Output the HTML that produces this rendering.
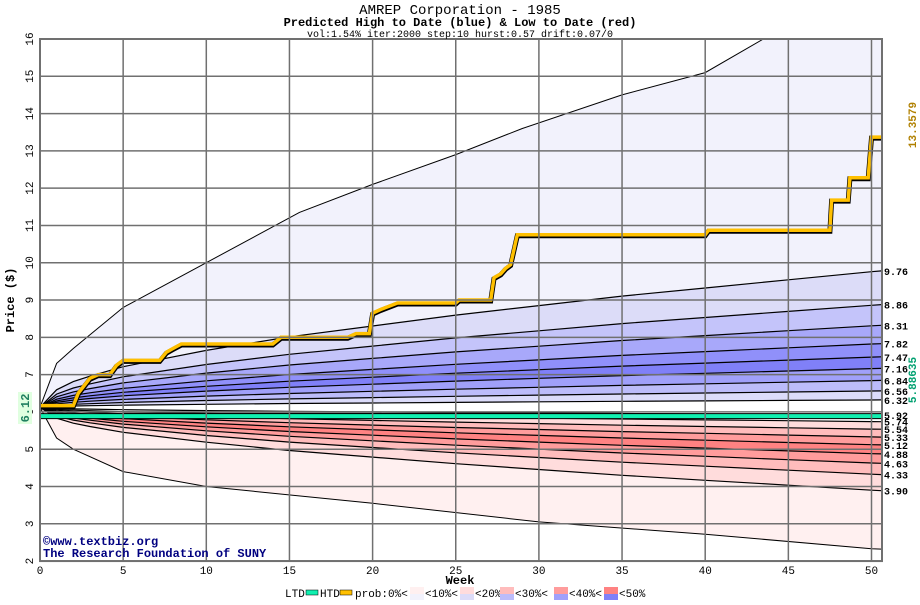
<!DOCTYPE html>
<html><head><meta charset="utf-8"><style>
body{margin:0;background:#fff;width:920px;height:600px;overflow:hidden}
svg text{font-family:"Liberation Mono","DejaVu Sans Mono",monospace}
</style></head><body>
<svg id="c" width="920" height="600"></svg>
<script>
// ---- data ----
const shapeWeeks=[0,1,2,3,5,10,15,20,25,30,35,40,45,50,50.6];
const shapeFrac=[0,0.13,0.19,0.23,0.30,0.42,0.52,0.60,0.68,0.75,0.82,0.88,0.94,1.0,1.006];
const bandEnds=[9.76,8.86,8.31,7.82,7.47,7.16,6.84,6.56,6.32,5.92,5.74,5.54,5.33,5.12,4.88,4.63,4.33,3.90];
const bandColors=["#dcdcf8","#c4c4fa","#a8a8fa","#9090fa","#8080f8","#a0a0fa","#bcbcfa","#dcdcfa","#ffffff","#ffffff","#ffdcdc","#ffbcbc","#ff9c9c","#ff8282","#ff9c9c","#ffbcbc","#ffdcdc"];
const upperWeeks=[0,1,2,5,10,15.6,20,25,29,35,40,43.5,50.6];
const upperVals=[6.12,7.3,7.7,8.8,10.0,11.35,12.1,12.9,13.6,14.5,15.1,16,16.3];
const lowerWeeks=[0,1,2,5,10,20,30,40,50,50.6];
const lowerVals=[6.12,5.3,5.0,4.4,4.0,3.55,3.05,2.72,2.33,2.32];
const htdWeeks=[0,2,2.3,3,3.5,4.2,4.6,5,7.2,7.6,8,8.5,14,14.5,18.5,19,19.8,20,20.5,21.5,25,25.2,27.1,27.3,27.7,28,28.3,28.7,40,40.2,47.5,47.6,48.6,48.7,49.8,50,50.6];
const htdVals=[6.17,6.17,6.5,6.9,7.0,7.0,7.25,7.38,7.38,7.6,7.7,7.82,7.82,8.0,8.0,8.1,8.1,8.65,8.75,8.92,8.92,9.0,9.0,9.6,9.7,9.85,9.95,10.75,10.75,10.87,10.87,11.68,11.68,12.28,12.28,13.37,13.37];
const ltdValue=5.88635;
const htdValue=13.3579;
const startPrice=6.12;
const xTicks=[0,5,10,15,20,25,30,35,40,45,50];
const yTicks=[2,3,4,5,6,7,8,9,10,11,12,13,14,15,16];
// ---- axes ----
const X0=40,XW=16.63,Y16=39,YU=37.29,RIGHT=882;
const xs=w=>X0+w*XW, ys=v=>Y16+(16-v)*YU;
const svg=document.getElementById('c');const NS="http://www.w3.org/2000/svg";
function el(t,a,p){const e=document.createElementNS(NS,t);for(const k in a)e.setAttribute(k,a[k]);(p||svg).appendChild(e);return e;}
function interp(W,V,w){for(let i=1;i<W.length;i++){if(w<=W[i]){const f=(w-W[i-1])/(W[i]-W[i-1]);return V[i-1]+f*(V[i]-V[i-1]);}}return V[V.length-1];}
const clip=el('clipPath',{id:'pc'});el('rect',{x:X0,y:Y16,width:RIGHT-X0,height:ys(2)-Y16},clip);
const g=el('g',{'clip-path':'url(#pc)'});
const curve=end=>shapeWeeks.map((w,i)=>[xs(w),ys(startPrice+(end-startPrice)*shapeFrac[i])]);
const env=(W,V)=>W.map((w,i)=>[xs(w),ys(V[i])]);
const pts=a=>a.map(p=>p[0].toFixed(1)+','+p[1].toFixed(1)).join(' ');
function fillBetween(a,b,col,name){const p=el('polygon',{points:pts(a.concat(b.slice().reverse())),fill:col},g);
}
const upper=env(upperWeeks,upperVals),lower=env(lowerWeeks,lowerVals);
fillBetween(upper,curve(bandEnds[0]),"#f2f2fc","band-upper-outer");
for(let i=0;i<bandEnds.length-1;i++)fillBetween(curve(bandEnds[i]),curve(bandEnds[i+1]),bandColors[i],"prob-band-"+i);
fillBetween(curve(bandEnds[bandEnds.length-1]),lower,"#fff0f0","band-lower-outer");
// grid
xTicks.forEach(t=>{const l=el('line',{x1:xs(t),x2:xs(t),y1:Y16,y2:ys(2),stroke:'#707070','stroke-width':1.5});});
yTicks.forEach(t=>{const l=el('line',{x1:X0,x2:RIGHT,y1:ys(t),y2:ys(t),stroke:'#707070','stroke-width':1.5});});
// curves
[upper,lower].forEach(a=>{const l=el('polyline',{points:pts(a),fill:'none',stroke:'#000','stroke-width':1},g);});
bandEnds.forEach(v=>{const l=el('polyline',{points:pts(curve(v)),fill:'none',stroke:'#000','stroke-width':1.2},g);});
const med=el('line',{x1:xs(5),x2:xs(35),y1:ys(5.95),y2:ys(5.95),stroke:'#000','stroke-width':2},g);
// LTD
const ly=ys(ltdValue);
const lt1=el('line',{x1:X0,x2:RIGHT,y1:ly,y2:ly,stroke:'#000','stroke-width':6},g);
const lt2=el('line',{x1:X0,x2:RIGHT,y1:ly,y2:ly,stroke:'#10f0b0','stroke-width':4},g);
// HTD
let hp=[];htdWeeks.forEach((w,i)=>hp.push([xs(w),ys(htdVals[i])]));
const h1=el('polyline',{points:pts(hp.map(p=>[p[0],p[1]+1])),fill:'none',stroke:'#000','stroke-width':5},g);
const h2=el('polyline',{points:pts(hp),fill:'none',stroke:'#ffc000','stroke-width':3.5},g);
// frame
const fr=el('rect',{x:X0,y:Y16,width:RIGHT-X0,height:ys(2)-Y16,fill:'none',stroke:'#707070','stroke-width':2});
// tick labels
xTicks.forEach(t=>{const e=el('text',{x:xs(t),y:ys(2)+13,'font-size':11,'text-anchor':'middle'});e.textContent=t;});
yTicks.forEach(t=>{const y=ys(t);const e=el('text',{x:33,y:y,'font-size':11,'text-anchor':'middle',transform:`rotate(-90 33 ${y})`});e.textContent=t;});
// right labels
bandEnds.forEach(v=>{let y=ys(interp(shapeWeeks,shapeFrac,50.6)*(v-startPrice)+startPrice)+4;const e=el('text',{x:884,y:y,'font-size':10,'font-weight':'bold'});e.textContent=v.toFixed(2);});
</script>
<svg width="920" height="600" style="position:absolute;left:0;top:0">
<text x="460" y="14" font-size="14" text-anchor="middle" font-family="Liberation Mono,monospace">AMREP Corporation - 1985</text>
<text x="460" y="26" font-size="12" font-weight="bold" text-anchor="middle" font-family="Liberation Mono,monospace">Predicted High to Date (blue) &amp;  Low to Date (red)</text>
<text x="460" y="37" font-size="10" text-anchor="middle" font-family="Liberation Mono,monospace">vol:1.54% iter:2000 step:10 hurst:0.57 drift:0.07/0</text>
<text x="14" y="300" font-size="12" font-weight="bold" text-anchor="middle" transform="rotate(-90 14 300)" font-family="Liberation Mono,monospace">Price ($)</text>
<text x="460" y="584" font-size="12" font-weight="bold" text-anchor="middle" font-family="Liberation Mono,monospace">Week</text>
<rect x="18" y="392" width="14" height="32" fill="#e0ffe0"/>
<text x="29" y="408" font-size="12" font-weight="bold" fill="#208060" text-anchor="middle" transform="rotate(-90 29 408)" font-family="Liberation Mono,monospace">6.12</text>
<text x="916" y="125" font-size="11" font-weight="bold" fill="#b08000" text-anchor="middle" transform="rotate(-90 916 125)" font-family="Liberation Mono,monospace">13.3579</text>
<text x="916" y="380" font-size="11" font-weight="bold" fill="#00a070" text-anchor="middle" transform="rotate(-90 916 380)" font-family="Liberation Mono,monospace">5.88635</text>
<text x="43" y="545" font-size="12" font-weight="bold" fill="#000080" font-family="Liberation Mono,monospace">©www.textbiz.org</text>
<text x="43" y="557" font-size="12" font-weight="bold" fill="#000080" font-family="Liberation Mono,monospace">The Research Foundation of SUNY</text>
<g font-size="11" font-family="Liberation Mono,monospace">
<text x="285" y="597">LTD</text>
<rect x="306" y="590" width="12" height="5" fill="#10f0b0" stroke="#000" stroke-width="0.5"/>
<text x="320" y="597">HTD</text>
<rect x="340" y="590" width="12" height="5" fill="#ffc000" stroke="#000" stroke-width="0.5"/>
<text x="355" y="597">prob:0%&lt;</text>
<rect x="410" y="587" width="14" height="7" fill="#fff0f0"/><rect x="410" y="594" width="14" height="6" fill="#f2f2fc"/>
<text x="425" y="597">&lt;10%&lt;</text>
<rect x="460" y="587" width="14" height="7" fill="#ffdcdc"/><rect x="460" y="594" width="14" height="6" fill="#dcdcf8"/>
<text x="475" y="597">&lt;20%&lt;</text>
<rect x="500" y="587" width="14" height="7" fill="#ffbcbc"/><rect x="500" y="594" width="14" height="6" fill="#bcbcfa"/>
<text x="515" y="597">&lt;30%&lt;</text>
<rect x="554" y="587" width="14" height="7" fill="#ff9c9c"/><rect x="554" y="594" width="14" height="6" fill="#a0a0fa"/>
<text x="569" y="597">&lt;40%&lt;</text>
<rect x="604" y="587" width="14" height="7" fill="#ff8282"/><rect x="604" y="594" width="14" height="6" fill="#8080f8"/>
<text x="619" y="597">&lt;50%</text>
</g>
</svg>
</body></html>
